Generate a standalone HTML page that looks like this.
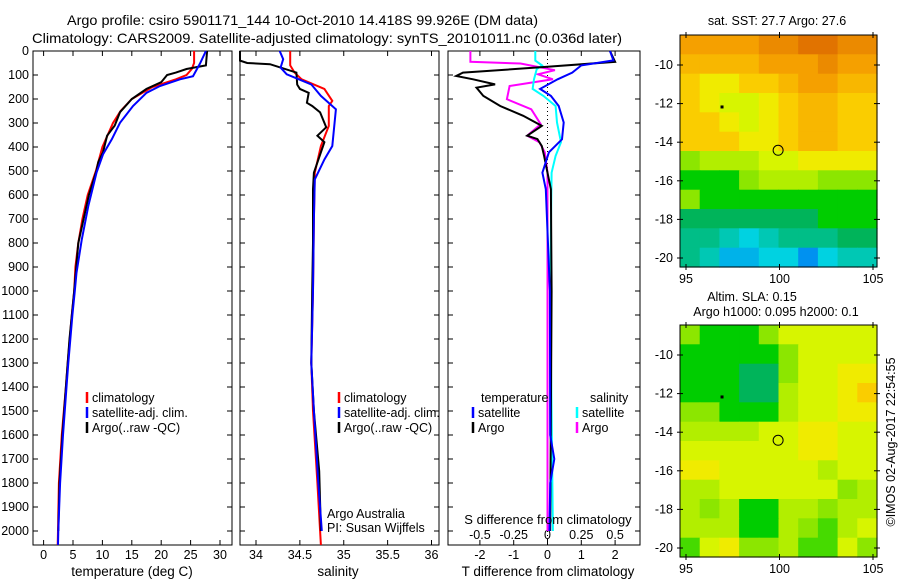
<!DOCTYPE html>
<html><head><meta charset="utf-8"><style>
html,body{margin:0;padding:0;background:#fff}
svg{display:block;font-family:"Liberation Sans",sans-serif}
</style></head><body>
<svg id="chart" width="900" height="580" viewBox="0 0 900 580" xmlns="http://www.w3.org/2000/svg">
<text x="67" y="25" font-size="14" textLength="471" lengthAdjust="spacingAndGlyphs">Argo profile: csiro 5901171_144 10-Oct-2010 14.418S 99.926E (DM data)</text>
<text x="32" y="43" font-size="14" textLength="590" lengthAdjust="spacingAndGlyphs">Climatology: CARS2009. Satellite-adjusted climatology: synTS_20101011.nc (0.036d later)</text>
<g id="g"></g>
</svg>
<script>
// ---- temperature profiles (depth m, deg C)
const tClimDepth=[0,50,75,100,118,150,200,250,300,400,500,600,700,800,900,1000,1100,1300,1400,1600,1800,2000,2058];
const tClimVal=[25.6,25.6,25.2,24.3,22.5,18.5,15.0,13.1,11.8,10.0,8.9,7.5,6.6,5.9,5.4,5.2,4.8,4.1,3.8,3.1,2.6,2.45,2.4];
const tSatDepth=[0,52,105,118,146,174,229,299,368,431,507,646,785,924,1000,1100,1300,1400,1600,1800,2000,2058];
const tSatVal=[27.6,26.6,25.4,23.2,19.8,17.5,15.2,13.0,11.6,10.1,9.0,7.6,6.5,5.6,5.3,4.9,4.2,3.9,3.3,2.8,2.5,2.45];
const tArgoDepth=[0,60,75,90,100,130,158,200,255,311,353,422,462,498,600,800,1000,1200,1400,1600,1800,2000];
const tArgoVal=[27.8,27.6,24.3,22.5,21.0,20.0,17.5,15.0,13.0,12.1,10.8,10.1,9.3,9.0,7.7,5.9,5.2,4.4,3.8,3.2,2.7,2.5];
// ---- salinity profiles
const sClimDepth=[0,60,90,118,158,208,229,312,396,507,700,1000,1300,1500,1800,2000,2058];
const sClimVal=[34.39,34.39,34.44,34.52,34.78,34.87,34.83,34.83,34.74,34.67,34.66,34.65,34.63,34.65,34.70,34.73,34.74];
const sSatDepth=[0,34,69,97,139,187,243,396,452,535,700,1000,1300,1500,1800,2000];
const sSatVal=[34.27,34.31,34.28,34.35,34.63,34.74,34.91,34.87,34.78,34.67,34.66,34.65,34.63,34.66,34.71,34.75];
const sArgoDepth=[0,40,50,55,90,140,158,174,216,229,256,318,353,380,422,507,576,800,1000,1300,1500,1750,2000];
const sArgoVal=[33.75,33.75,33.9,34.16,34.46,34.47,34.5,34.6,34.58,34.64,34.73,34.8,34.7,34.78,34.74,34.66,34.65,34.65,34.64,34.63,34.66,34.72,34.74];
// ---- differences from climatology
const dTArgoDepth=[0,45,66,90,104,118,139,153,187,229,270,312,353,367,396,437,507,576,1000,1500,2000];
const dTArgoVal=[1.85,2.0,0,-2.5,-2.7,-2.2,-1.55,-2.1,-1.9,-1.4,-0.72,-0.17,-0.6,-0.3,-0.17,-0.1,0,0.1,0.12,0.1,0.08];
const dTSatDepth=[0,39,60,90,118,158,187,229,298,368,422,507,576,1000,1600,1700,1800,2000];
const dTSatVal=[1.85,1.95,1.0,0.73,0.3,-0.22,0.1,0.33,0.48,0.43,0.04,-0.15,-0.05,0.07,0.08,0.2,0.08,0.06];
const dSArgoDepth=[0,45,52,80,97,118,146,201,243,305,353,380,422,507,1000,2000];
const dSArgoVal=[-0.57,-0.57,-0.2,0.055,-0.07,0.04,-0.28,-0.3,-0.12,-0.05,-0.15,-0.06,-0.02,0,0,0];
const dSSatDepth=[0,40,60,76,118,158,187,229,298,380,437,507,1000,2000];
const dSSatVal=[-0.09,-0.09,-0.04,-0.08,-0.1,-0.11,-0.03,0.06,0.07,0.1,0.06,0.03,0.02,0.04];
// ---- ticks
const depthTicks=[0,100,200,300,400,500,600,700,800,900,1000,1100,1200,1300,1400,1500,1600,1700,1800,1900,2000];
const tempTicks=[0,5,10,15,20,25,30];
const salTicks=[34,34.5,35,35.5,36];
const salTickLabels=["34","34.5","35","35.5","36"];
const dTTicks=[-2,-1,0,1,2];
const dSTicks=[-0.5,-0.25,0,0.25,0.5];
const dSTickLabels=["-0.5","-0.25","0","0.25","0.5"];
const latTicks=[-10,-12,-14,-16,-18,-20];
const lonTicks=[95,100,105];
// ---- map grids (colour index 0=blue .. 9=dark orange), rows lat -9..-20, cols lon 95..105
const sstGrid=[
[8,8,8,8,8.5,8.5,9,9,8.5,8.5],
[7.5,7.5,7.5,7.5,8,8,8,8.5,8,8],
[7,6.5,6.5,7,7,7.5,8,8,7.5,7.5],
[7,6.5,6,6,6.5,7,7.5,7.5,7,7],
[7,7,6.5,6,6.5,7,7.5,7.5,7,7],
[7,7,7,6.5,6.5,7,7.5,7.5,7,7],
[5,5.5,5.5,5.5,6,6,6.5,6.5,6.5,6.5],
[4,4,4,5,5.5,5.5,5.5,5,5,5],
[5,4,4,4,4,4,4,4,4,4],
[3.5,3.5,3.5,3.5,3.5,3.5,3.5,4,4,4],
[3,3,2.5,2,2.5,3,3,3,3.5,3.5],
[3,2.5,1.5,1.5,2,2,1,2,2.5,2.5]];
const slaGrid=[
[5,4,4,4,5,6,6,6,6,6],
[4,4,4,4,4,5,6,6,6,6],
[4,4,4,3.5,3.5,5,6,6,6.5,6.5],
[4,4,4,3.5,3.5,5.5,6,6,6.5,7],
[5,5,4,4,4,5.5,6,6,6.5,6.5],
[5.5,5.5,5.5,5.5,6,6,6.5,6.5,6,6],
[6,6,6,6,6,6,6.5,6.5,6,6],
[6.5,6.5,6,6,6,6,6,5.5,6,6],
[5.5,5.5,6,6,6,6,6,6,5,5.5],
[5.5,5,5.5,4,4,5.5,5.5,5,5.5,5.5],
[5.5,5.5,5.5,4,4,5.5,5,4.5,5.5,6],
[4.5,6,6.5,5,5,5.5,4.5,4.5,6,5]];
const argoLon=[99.926], argoLat=[-14.418];

const NS="http://www.w3.org/2000/svg";
const G=document.getElementById('g');
function mk(tag,attrs,parent){const e=document.createElementNS(NS,tag);for(const k in attrs)e.setAttribute(k,attrs[k]);(parent||G).appendChild(e);return e;}
function txt(s,x,y,opts,parent){const e=mk('text',Object.assign({x:x,y:y,'font-size':12.5},opts||{}),parent);e.textContent=s;return e;}

const TOP=51,BOT=545,D0=51,DPX=0.24;
const yD=d=>D0+d*DPX;
const P1={l:33,r:232,x:v=>43.6+v*5.88};
const P2={l:240,r:439,x:v=>256+(v-34)*87.75};
const P3={l:448,r:640,x:v=>547.5+v*33.8};
const xS=v=>547.5+v*135.2;

function frame(P,name){
  const f=mk('rect',{x:P.l,y:TOP,width:P.r-P.l,height:BOT-TOP,fill:'none',stroke:'#000','stroke-width':1});
  
  
  depthTicks.forEach(d=>{
    const y=yD(d);
    const t1=mk('line',{x1:P.l,x2:P.l+5,y1:y,y2:y,stroke:'#000'});
    
    
    const t2=mk('line',{x1:P.r-5,x2:P.r,y1:y,y2:y,stroke:'#000'});
    
    
  });
}
function xticks(P,ticks,labels,fx,ly,name){
  ticks.forEach((v,i)=>{
    const x=fx(v);
    const a=mk('line',{x1:x,x2:x,y1:TOP,y2:TOP+5,stroke:'#000'});
    
    
    const b=mk('line',{x1:x,x2:x,y1:BOT-5,y2:BOT,stroke:'#000'});
    
    
    if(ly){const t=txt(labels[i],x,ly,{'text-anchor':'middle'});
    
    }
  });
}
function line(depths,vals,fx,color,name,P){
  const pts=depths.map((d,i)=>Math.max(P.l,Math.min(P.r,fx(vals[i]))).toFixed(1)+','+yD(d).toFixed(1)).join(' ');
  const pl=mk('polyline',{points:pts,fill:'none',stroke:color,'stroke-width':2,'stroke-linejoin':'miter'});
  
  
}
function legendRow(x,y,color,label){
  const m=mk('line',{x1:x,x2:x,y1:y-10,y2:y+1,stroke:color,'stroke-width':2.5});
  
  
  const t=txt(label,x+5,y);
  
  
}

// Panel 1
frame(P1,'temperature-panel');
depthTicks.forEach(d=>{const t=txt(String(d),29,yD(d)+4,{'text-anchor':'end'});
  
  });
xticks(P1,tempTicks,tempTicks.map(String),P1.x,559,'temperature');
line(tClimDepth,tClimVal,P1.x,'#f00','temp-climatology-line',P1);
line(tArgoDepth,tArgoVal,P1.x,'#000','temp-argo-line',P1);
line(tSatDepth,tSatVal,P1.x,'#00f','temp-satellite-line',P1);
legendRow(87,402,'#f00','climatology');legendRow(87,417,'#00f','satellite-adj. clim.');legendRow(87,432,'#000','Argo(..raw -QC)');
let at=txt('temperature (deg C)',132,576,{'text-anchor':'middle','font-size':13.5});

// Panel 2
frame(P2,'salinity-panel');
xticks(P2,salTicks,salTickLabels,P2.x,559,'salinity');
line(sClimDepth,sClimVal,P2.x,'#f00','sal-climatology-line',P2);
line(sArgoDepth,sArgoVal,P2.x,'#000','sal-argo-line',P2);
line(sSatDepth,sSatVal,P2.x,'#00f','sal-satellite-line',P2);
legendRow(339,402,'#f00','climatology');legendRow(339,417,'#00f','satellite-adj. clim.');legendRow(339,432,'#000','Argo(..raw -QC)');
at=txt('salinity',338,576,{'text-anchor':'middle','font-size':13.5});
at=txt('Argo Australia',327,518);
at=txt('PI: Susan Wijffels',327,532);

// Panel 3
frame(P3,'difference-panel');
const zl=mk('line',{x1:P3.x(0),x2:P3.x(0),y1:TOP,y2:BOT,stroke:'#000','stroke-dasharray':'1,3'});

xticks(P3,dTTicks,dTTicks.map(String),P3.x,559,'t-diff');
dSTicks.forEach((v,i)=>{const t=txt(dSTickLabels[i],xS(v),539,{'text-anchor':'middle'});
  });
line(dSArgoDepth,dSArgoVal,xS,'#f0f','s-diff-argo-line',P3);
line(dSSatDepth,dSSatVal,xS,'#0ff','s-diff-satellite-line',P3);
line(dTArgoDepth,dTArgoVal,P3.x,'#000','t-diff-argo-line',P3);
line(dTSatDepth,dTSatVal,P3.x,'#00f','t-diff-satellite-line',P3);
at=txt('temperature',481,402);
at=txt('salinity',590,402);
legendRow(473,417,'#00f','satellite');legendRow(473,432,'#000','Argo');
legendRow(577,417,'#0ff','satellite');legendRow(577,432,'#f0f','Argo');
at=txt('S difference from climatology',548,524,{'text-anchor':'middle','font-size':13});
at=txt('T difference from climatology',548,576,{'text-anchor':'middle','font-size':13.5});

// Maps
const stops=[[0,[0,80,255]],[2,[0,210,225]],[3.5,[0,180,90]],[4,[0,205,0]],[5,[140,230,0]],[6,[215,245,0]],[6.5,[240,235,0]],[7,[250,205,0]],[8,[245,160,0]],[9,[225,115,0]]];
function cmap(v){for(let i=1;i<stops.length;i++){if(v<=stops[i][0]){const [a,ca]=stops[i-1],[b,cb]=stops[i];const t=(v-a)/(b-a);return 'rgb('+ca.map((c,k)=>Math.round(c+(cb[k]-c)*t)).join(',')+')';}}return 'rgb('+stops[stops.length-1][1].join(',')+')';}
function map(top,grid,name){
  const M={l:680,r:877,t:top,b:top+232};
  const xL=lon=>686+(lon-95)*18.7, yL=lat=>top+30+(-10-lat)*19.3;
  const rows=grid.length,cols=grid[0].length;
  const cw=(M.r-M.l)/cols,ch=(M.b-M.t)/rows;
  grid.forEach((row,i)=>row.forEach((v,j)=>{
    const c=mk('rect',{x:(M.l+j*cw).toFixed(1),y:(M.t+i*ch).toFixed(1),width:(cw+0.6).toFixed(1),height:(ch+0.6).toFixed(1),fill:cmap(v)});
    
    
  }));
  const f=mk('rect',{x:M.l,y:M.t,width:M.r-M.l,height:M.b-M.t,fill:'none',stroke:'#000'});
  
  latTicks.forEach(la=>{const y=yL(la);
    mk('line',{x1:M.l-3,x2:M.l+3,y1:y,y2:y,stroke:'#000'});mk('line',{x1:M.r-3,x2:M.r+3,y1:y,y2:y,stroke:'#000'});
    const t=txt(String(la),673,y+4,{'text-anchor':'end'});});
  lonTicks.forEach(lo=>{const x=xL(lo);
    mk('line',{x1:x,x2:x,y1:M.t-3,y2:M.t+3,stroke:'#000'});mk('line',{x1:x,x2:x,y1:M.b-3,y2:M.b+3,stroke:'#000'});
    const t=txt(String(lo),x,M.b+16,{'text-anchor':'middle'});});
  const c=mk('circle',{cx:xL(argoLon[0]),cy:yL(argoLat[0]),r:5,fill:'none',stroke:'#000'});
  
  const dot=mk('rect',{x:xL(96.9)-1,y:yL(-12.2)-2,width:3,height:3,fill:'#000'});
  
}
map(35,sstGrid,'sst-map');
at=txt('sat. SST: 27.7 Argo: 27.6',777,25,{'text-anchor':'middle'});
map(325,slaGrid,'sla-map');
at=txt('Altim. SLA: 0.15',752,301,{'text-anchor':'middle'});
at=txt('Argo h1000: 0.095 h2000: 0.1',776,316,{'text-anchor':'middle'});
at=txt('©IMOS 02-Aug-2017 22:54:55',0,0,{'text-anchor':'middle',transform:'translate(895,442) rotate(-90)'});
</script>
</body></html>
